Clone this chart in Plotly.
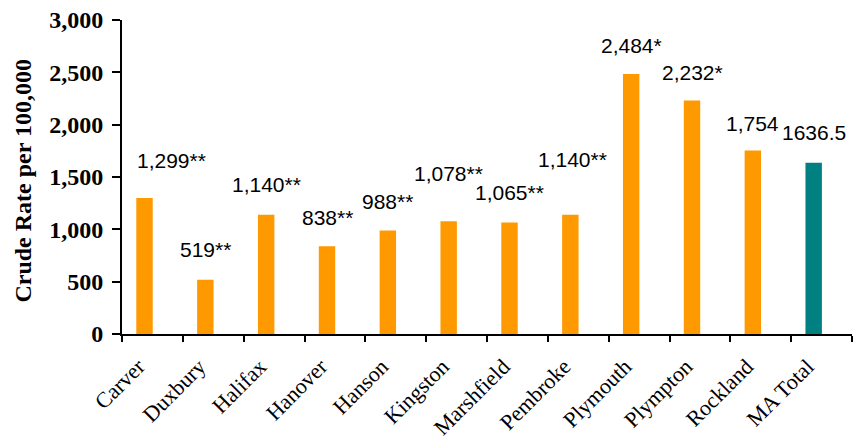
import plotly.graph_objects as go

# Crude rate per 100,000 by town, with the state total for comparison
towns = ["Carver", "Duxbury", "Halifax", "Hanover", "Hanson", "Kingston",
         "Marshfield", "Pembroke", "Plymouth", "Plympton", "Rockland", "MA Total"]
rates = [1299, 519, 1140, 838, 988, 1078, 1065, 1140, 2484, 2232, 1754, 1636.5]
rate_labels = ["1,299**", "519**", "1,140**", "838**", "988**", "1,078**",
               "1,065**", "1,140**", "2,484*", "2,232*", "1,754", "1636.5"]
bar_colors = ["#FF9900"] * 11 + ["#008080"]

# label nudges in pixels (dx, dy above the bar top)
label_dx = [27, 0, 0, 0, 0, 0, 0, 2, 0, 0, 0, 0]
label_dy = [38, 30, 30, 29, 29, 48, 30, 55, 29, 28, 27, 30]

y_ticks = [0, 500, 1000, 1500, 2000, 2500, 3000]

BAR_W = 0.27
BAR_OFF = -0.265

SERIF = "Liberation Serif, Times New Roman"

fig = go.Figure()
fig.add_trace(go.Bar(
    x=towns, y=rates,
    marker=dict(color=bar_colors, line=dict(width=0)),
    width=BAR_W, offset=BAR_OFF,
    hoverinfo="x+y",
))

for i, (v, t) in enumerate(zip(rates, rate_labels)):
    fig.add_annotation(
        x=i + BAR_OFF + BAR_W / 2, y=v, xref="x", yref="y",
        text=t, showarrow=False, xanchor="center", yanchor="middle",
        xshift=label_dx[i], yshift=label_dy[i],
        font=dict(family="Liberation Sans, Arial", size=21, color="#000000"),
    )

fig.add_annotation(
    x=-0.135, y=0.49, xref="paper", yref="paper",
    text="Crude Rate per 100,000", showarrow=False, textangle=-90,
    xanchor="center", yanchor="middle",
    font=dict(family=SERIF, size=24, color="#000000", weight="bold"),
)

fig.update_layout(
    width=855, height=441,
    margin=dict(l=122, r=3, t=20, b=107),
    paper_bgcolor="white", plot_bgcolor="white",
    showlegend=False,
    xaxis=dict(
        type="category", tickson="boundaries", automargin=False,
        showline=True, linecolor="#000000", linewidth=2,
        ticks="outside", ticklen=6, tickwidth=2, tickcolor="#000000",
        tickangle=-45, showgrid=False,
        ticklabelshift=-14, ticklabelstandoff=9,
        tickfont=dict(family=SERIF, size=22, color="#000000"),
    ),
    yaxis=dict(
        range=[0, 3000], tickvals=y_ticks, tickformat=",d", automargin=False,
        showline=True, linecolor="#000000", linewidth=2,
        ticks="outside", ticklen=8, tickwidth=2, tickcolor="#000000",
        showgrid=False, zeroline=False,
        ticklabelstandoff=4,
        tickfont=dict(family=SERIF, size=24, color="#000000", weight="bold"),
    ),
)

fig.write_html("out.html")
